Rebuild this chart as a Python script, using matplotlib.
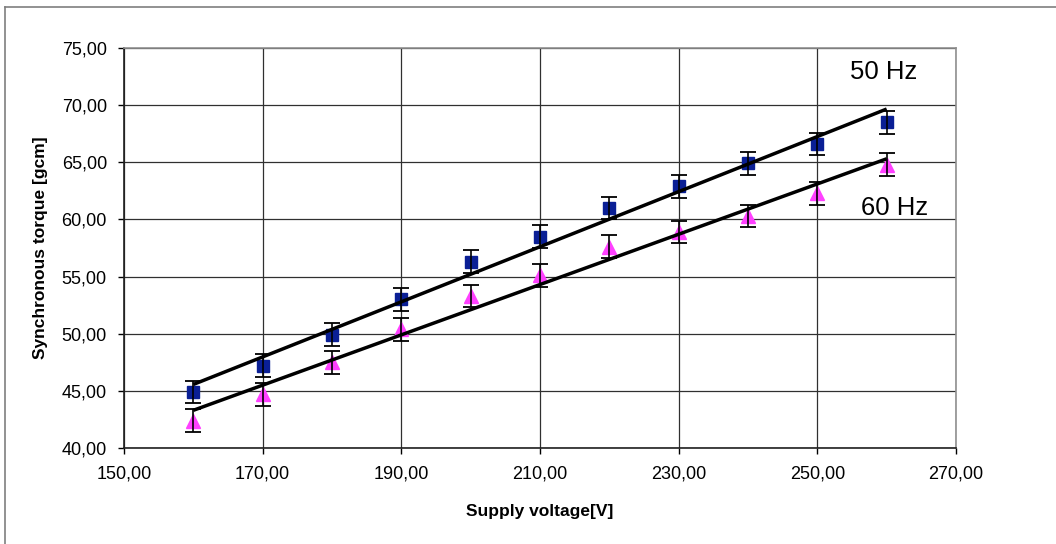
import numpy as np
import matplotlib
matplotlib.use("Agg")
import matplotlib.pyplot as plt
from matplotlib.ticker import FuncFormatter
from matplotlib.lines import Line2D

plt.rcParams['font.family'] = ['Liberation Sans', 'DejaVu Sans']

# measured data
voltage = [160, 170, 180, 190, 200, 210, 220, 230, 240, 250, 260]
torque_50hz = [44.9, 47.2, 49.9, 53.0, 56.3, 58.5, 61.0, 62.9, 64.9, 66.6, 68.5]
torque_60hz = [42.4, 44.7, 47.5, 50.4, 53.3, 55.1, 57.6, 58.9, 60.3, 62.3, 64.8]
err_50hz = [1.0] * len(voltage)
err_60hz = [1.0] * len(voltage)

x_ticks = [150, 170, 190, 210, 230, 250, 270]
y_ticks = [40, 45, 50, 55, 60, 65, 70, 75]

fig = plt.figure(figsize=(10.56, 5.44), dpi=100)
ax = fig.add_axes([0.1174, 0.1765, 0.7879, 0.7353])

x = np.array(voltage)

# error bars + markers
ax.errorbar(x, torque_50hz, yerr=err_50hz, fmt='none', ecolor='black',
            elinewidth=1.2, capsize=5.8, capthick=1.3, zorder=4)
ax.errorbar(x, torque_60hz, yerr=err_60hz, fmt='none', ecolor='black',
            elinewidth=1.2, capsize=5.8, capthick=1.3, zorder=4)
ax.plot(x, torque_50hz, linestyle='none', marker='s', markersize=9.3,
        color='#0a1f95', zorder=3)
ax.plot(x, torque_60hz, linestyle='none', marker='^', markersize=10.5,
        color='#ff40ff', zorder=3)

# linear trend lines
for ys in (torque_50hz, torque_60hz):
    k, b = np.polyfit(x, ys, 1)
    xs = np.array([x.min(), x.max()])
    ax.plot(xs, k * xs + b, color='black', linewidth=2.5, zorder=5,
            solid_capstyle='butt')

ax.text(259.5, 72.9, '50 Hz', fontsize=18.5, ha='center', va='center')
ax.text(261.2, 61.0, '60 Hz', fontsize=18.5, ha='center', va='center')

ax.set_xlim(150, 270)
ax.set_ylim(40, 75)
ax.set_xticks(x_ticks)
ax.set_yticks(y_ticks)
fmt = FuncFormatter(lambda v, p: f"{v:.2f}".replace('.', ','))
ax.xaxis.set_major_formatter(fmt)
ax.yaxis.set_major_formatter(fmt)

ax.grid(True, color='#303030', linewidth=0.9)
ax.set_axisbelow(True)
ax.tick_params(direction='out', length=4.3, width=1, pad=8, labelsize=13)

for side in ('left', 'bottom'):
    ax.spines[side].set_color('#202020')
    ax.spines[side].set_linewidth(1.2)
for side in ('top', 'right'):
    ax.spines[side].set_color('#909090')
    ax.spines[side].set_linewidth(1.2)

ax.set_xlabel('Supply voltage[V]', fontsize=12.5, fontweight='bold', labelpad=16)
ax.set_ylabel('Synchronous torque [gcm]', fontsize=12.5, fontweight='bold', labelpad=10)

# chart-area border (left and top edges visible)
fig.add_artist(Line2D([4.5 / 1056, 4.5 / 1056], [0, 1 - 6.5 / 544],
                      color='#7f7f7f', linewidth=1.2))
fig.add_artist(Line2D([4.5 / 1056, 1], [1 - 6.5 / 544, 1 - 6.5 / 544],
                      color='#7f7f7f', linewidth=1.2))

fig.savefig('out.png', dpi=100)
